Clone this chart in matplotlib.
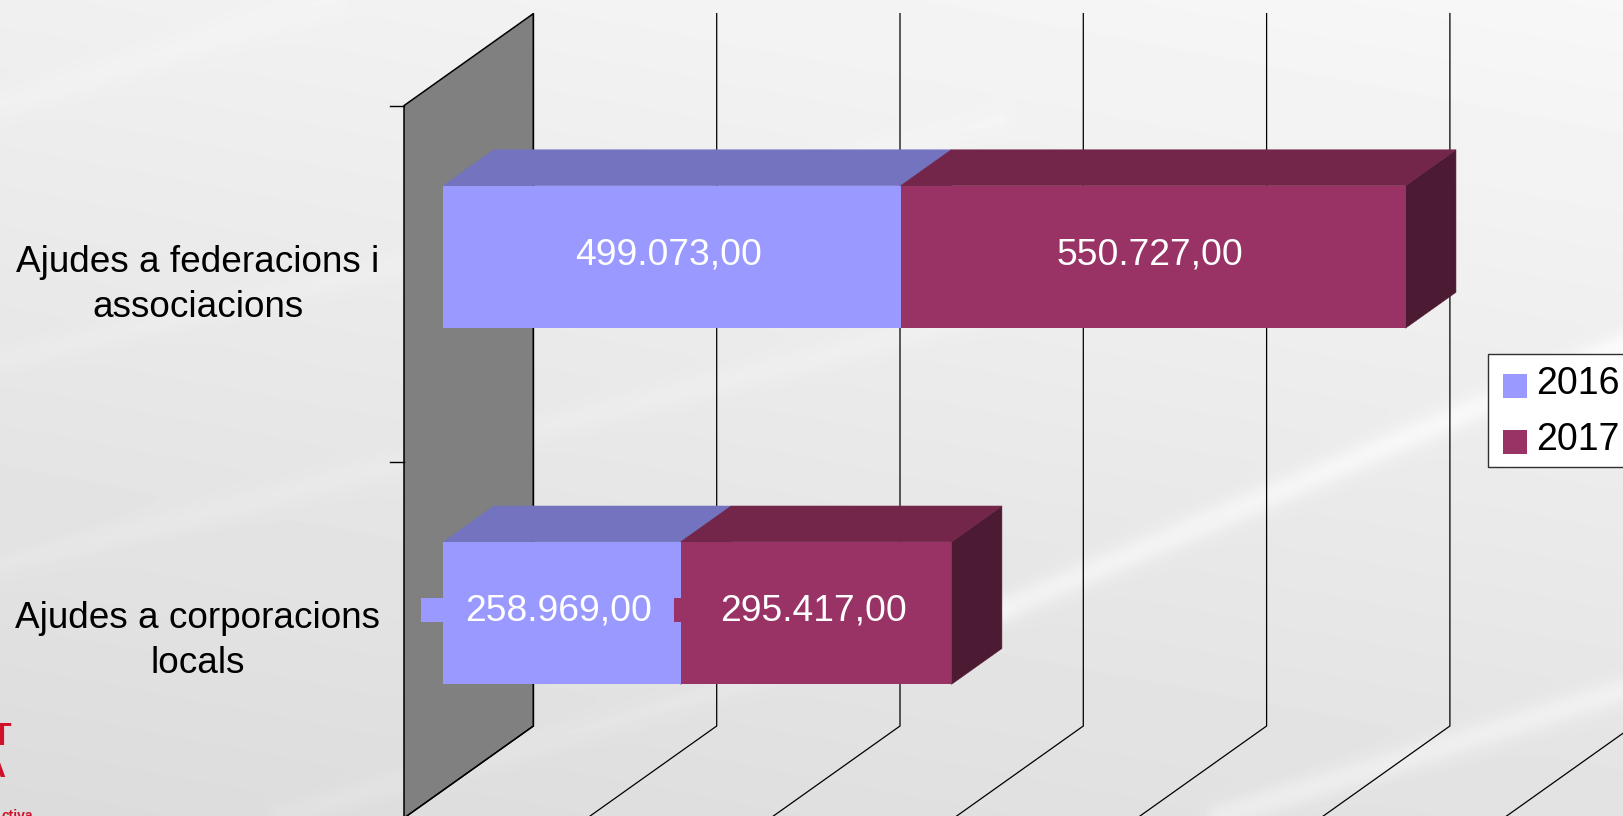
import numpy as np
import matplotlib
matplotlib.use("Agg")
import matplotlib.pyplot as plt
from matplotlib.patches import Patch, Polygon, Rectangle

WIDTH = 1623
HEIGHT = 816

categories = ["Ajudes a corporacions\nlocals", "Ajudes a federacions i\nassociacions"]
series_names = ["2016", "2017"]
values_2016 = [258969, 499073]
values_2017 = [295417, 550727]
labels_2016 = ["258.969,00", "499.073,00"]
labels_2017 = ["295.417,00", "550.727,00"]
grid_values = [0, 200000, 400000, 600000, 800000, 1000000, 1200000]

FACE_COLORS = ["#9999ff", "#993366"]
TOP_COLORS = ["#7373bf", "#732649"]
SIDE_COLORS = ["#4d4d80", "#4d1a33"]
WALL_COLOR = "#808080"
LOGO_RED = "#d0112b"
LABEL_FONT = "Liberation Sans"

# pixels of the front plane: value 0 at x=404, category edges at y=818 and y=105.6
PX_PER_VALUE = 183.3 / 200000
X0_PX = 404.0
Y0_PX = 818.0
PX_PER_CAT = 356.2
DEPTH_X = 129.4 / PX_PER_VALUE  # full depth of the box, in value units
DEPTH_Y = 92.0 / PX_PER_CAT  # same, in category units
BAR_FRONT = 0.304
BAR_BACK = 0.694
BAR_HEIGHT = 0.4
BAR_SHIFT = 1.2 / PX_PER_CAT


def proj(value, cat, depth):
    return value + depth * DEPTH_X, cat + depth * DEPTH_Y


def background():
    xx, yy = np.meshgrid(np.arange(WIDTH), np.arange(HEIGHT))
    img = 0.94 - 0.08 * (yy / HEIGHT) + 0.03 * (xx / WIDTH)
    # faint diagonal streaks: x0, y0, x1, y1, width, strength
    streaks = [
        (0, 105, 330, 0, 11, 0.012),
        (0, 360, 1000, 120, 9, 0.012),
        (0, 565, 1000, 310, 10, 0.014),
        (280, 816, 1000, 610, 9, 0.016),
        (1000, 610, 1623, 345, 10, 0.045),
        (1220, 816, 1623, 690, 10, 0.04),
    ]
    for x0, y0, x1, y1, w, amp in streaks:
        dx, dy = x1 - x0, y1 - y0
        t = np.clip(((xx - x0) * dx + (yy - y0) * dy) / (dx * dx + dy * dy), 0, 1)
        dist2 = (xx - x0 - t * dx) ** 2 + (yy - y0 - t * dy) ** 2
        img = img + amp * np.exp(-dist2 / (2 * w * w))
    return np.clip(img, 0, 1)


def draw_box(ax, left, right, cat, color_i):
    low = cat - BAR_HEIGHT / 2
    high = cat + BAR_HEIGHT / 2
    top = [proj(left, high, BAR_FRONT), proj(right, high, BAR_FRONT),
           proj(right, high, BAR_BACK), proj(left, high, BAR_BACK)]
    side = [proj(right, low, BAR_FRONT), proj(right, high, BAR_FRONT),
            proj(right, high, BAR_BACK), proj(right, low, BAR_BACK)]
    front = [proj(left, low, BAR_FRONT), proj(right, low, BAR_FRONT),
             proj(right, high, BAR_FRONT), proj(left, high, BAR_FRONT)]
    # thin same-colour edges close the seams that let gridlines peek through
    ax.add_patch(Polygon(side, facecolor=SIDE_COLORS[color_i], edgecolor=SIDE_COLORS[color_i], linewidth=0.4, zorder=3))
    ax.add_patch(Polygon(top, facecolor=TOP_COLORS[color_i], edgecolor=TOP_COLORS[color_i], linewidth=0.4, zorder=3))
    ax.add_patch(Polygon(front, facecolor=FACE_COLORS[color_i], edgecolor="none", zorder=4))


fig = plt.figure(figsize=(WIDTH / 100, HEIGHT / 100), dpi=100)

bg_ax = fig.add_axes([0, 0, 1, 1])
bg_ax.imshow(background(), cmap="gray", vmin=0, vmax=1, aspect="auto")
bg_ax.axis("off")

ax = fig.add_axes([0, 0, 1, 1])
ax.patch.set_alpha(0)
ax.axis("off")
ax.set_xlim(-X0_PX / PX_PER_VALUE, (WIDTH - X0_PX) / PX_PER_VALUE)
ax.set_ylim((Y0_PX - HEIGHT) / PX_PER_CAT, Y0_PX / PX_PER_CAT)

# grey side wall at value 0
wall = [proj(0, 0, 0), proj(0, 2, 0), proj(0, 2, 1), proj(0, 0, 1)]
ax.add_patch(Polygon(wall, facecolor=WALL_COLOR, edgecolor="black", linewidth=1.1, zorder=1))

# gridlines on the back plane and their run across the floor
for v in grid_values:
    x_a, y_a = proj(v, 0, 0)
    x_b, y_b = proj(v, 0, 1)
    x_c, y_c = proj(v, 2, 1)
    ax.plot([x_a, x_b, x_c], [y_a, y_b, y_c], color="black", linewidth=0.9, zorder=2)

# category ticks on the front edge
tick_len = 14 / PX_PER_VALUE
for c in range(len(categories) + 1):
    ax.plot([-tick_len, 0], [c, c], color="black", linewidth=1.0, zorder=2)

for i, cat_label in enumerate(categories):
    cat = i + 0.5
    v16 = values_2016[i]
    v17 = values_2017[i]
    draw_box(ax, 0, v16, cat - BAR_SHIFT, 0)
    draw_box(ax, v16, v16 + v17, cat - BAR_SHIFT, 1)

    ax.text((197.7 - X0_PX) / PX_PER_VALUE, cat - 1 / PX_PER_CAT, cat_label, ha="center", va="center",
            fontsize=26.6, family=LABEL_FONT, color="black", linespacing=1.37)

    for left, width, text in [(0, v16, labels_2016[i]), (v16, v17, labels_2017[i])]:
        x_t, y_t = proj(left + width / 2, cat, BAR_FRONT)
        ax.text(x_t - 3 / PX_PER_VALUE, y_t + 0.5 / PX_PER_CAT, text, ha="center", va="center", color="white",
                fontsize=26.8, family=LABEL_FONT, zorder=6)

# legend keys showing beside the labels of the lower bar
key_h = 23.5 / PX_PER_CAT
_, y_k = proj(0, 0.5, BAR_FRONT)
key_w = 22 / PX_PER_VALUE
key_w2 = 7 / PX_PER_VALUE
y_key = y_k - key_h / 2 + 2 / PX_PER_CAT
ax.add_patch(Rectangle((-key_w + proj(0, 0.5, BAR_FRONT)[0], y_key), key_w, key_h,
                       facecolor=FACE_COLORS[0], edgecolor="none", zorder=4))
ax.add_patch(Rectangle((proj(values_2016[0], 0.5, BAR_FRONT)[0] - key_w2, y_key), key_w2, key_h,
                       facecolor=FACE_COLORS[1], edgecolor="none", zorder=5))

# legend box runs off the right edge and has uneven padding, so the frame is separate
ax.add_patch(Rectangle((1488 / WIDTH, 1 - 467 / HEIGHT), 140 / WIDTH, 113 / HEIGHT, transform=ax.transAxes,
                       facecolor="white", edgecolor="#303030", linewidth=1.0, zorder=6, clip_on=True))
handles = [Patch(facecolor=c, edgecolor="none") for c in FACE_COLORS]
leg = ax.legend(handles, series_names, loc="upper left", bbox_to_anchor=(1503 / WIDTH, 1 - 371 / HEIGHT),
                borderaxespad=0, frameon=False, prop={"family": LABEL_FONT, "size": 27},
                handlelength=0.64, handleheight=0.61, handletextpad=0.24, labelspacing=0.53, borderpad=0)
leg.set_zorder(7)
# reference digits sit a little above their swatches
for t in leg.get_texts():
    t.set_y(5)

# bits of the logo cut off by the slide edge
fig.text(11 / WIDTH, 1 - 745 / HEIGHT, "T", color=LOGO_RED, fontsize=23, family=LABEL_FONT, weight="bold",
         ha="right", va="baseline")
fig.text(5 / WIDTH, 1 - 777 / HEIGHT, "A", color=LOGO_RED, fontsize=23, family=LABEL_FONT, weight="bold",
         ha="right", va="baseline")
fig.text(33 / WIDTH, 1 - 820 / HEIGHT, "ctiva", color=LOGO_RED, fontsize=10, family=LABEL_FONT, weight="bold",
         ha="right", va="baseline")

fig.savefig("out.png", dpi=100)
plt.close(fig)
